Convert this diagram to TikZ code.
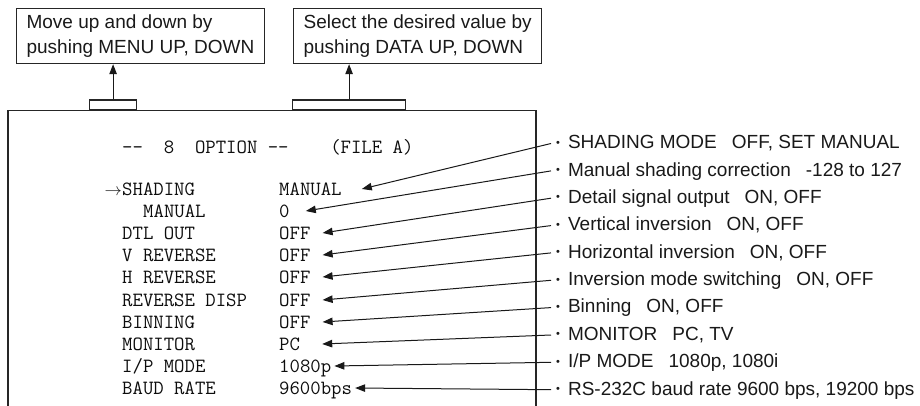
\documentclass[tikz,border=0pt]{standalone}
\usepackage{fontspec}
\setmainfont{Liberation Sans}
\usetikzlibrary{arrows.meta}
\newcommand\bul{{\fontsize{11}{11}\selectfont\raisebox{2.5pt}{•}}\hspace{8pt}}
\newcommand\gp{\hspace{15pt}}
\begin{document}
\begin{tikzpicture}[x=1pt,y=-1pt,
  ln/.style={draw=black!85, line width=1.4pt},
  topbox/.style={draw=black!85, line width=1.2pt, align=left, inner xsep=10pt,
    minimum height=55pt, anchor=north west, font=\fontsize{19}{25}\selectfont, text=black!90},
  tab/.style={draw=black!85, line width=1.2pt, minimum height=10pt, inner sep=0pt, anchor=south west},
  mono/.style={font=\ttfamily\fontsize{20.2}{20}\selectfont, inner sep=0pt, anchor=base west,
    text=black!95, text height=12pt, text depth=0pt},
  lab/.style={font=\fontsize{19}{19}\selectfont, inner sep=0pt, anchor=base west, text=black!90},
  tip/.style={-{Triangle[length=10pt,width=7.5pt]}, draw=black!90, line width=1pt},
]
\useasboundingbox (0,0) rectangle (920,406);

% top boxes
\node[topbox] (b1) at (16,8) {Move up and down by\\pushing MENU UP, DOWN};
\node[topbox] (b2) at (293,8) {Select the desired value by\\pushing DATA UP, DOWN};

% tabs
\node[tab, minimum width=47pt] (t1) at (89,110.7) {};
\node[tab, minimum width=113pt] (t2) at (292,110.7) {};
\draw[tip] (t1.north) -- (t1.north |- b1.south);
\draw[tip] (t2.north) -- (t2.north |- b2.south);

% screen frame
\draw[ln] (8,408) -- (8,110.7) -- (536,110.7) -- (536,408);

% screen text
\node[mono] (title) at (122,154) {--~~8~~OPTION~--~~~~(FILE~A)};
\node[mono] (l0) at (122,195) {SHADING};
\node[font=\fontsize{18}{18}\selectfont, inner sep=0pt, anchor=base east, text=black!90] (cur) at (122,195) {$\rightarrow$};
\node[mono] (l1) at (143,217) {MANUAL};
\node[mono] (l2) at (122,239) {DTL OUT};
\node[mono] (l3) at (122,261) {V REVERSE};
\node[mono] (l4) at (122,283) {H REVERSE};
\node[mono] (l5) at (122,306) {REVERSE DISP};
\node[mono] (l6) at (122,328) {BINNING};
\node[mono] (l7) at (122,350) {MONITOR};
\node[mono] (l8) at (122,372) {I/P MODE};
\node[mono] (l9) at (122,394) {BAUD RATE};

\node[mono] (v0) at (279,195) {MANUAL};
\node[mono] (v1) at (279,217) {0};
\node[mono] (v2) at (279,239) {OFF};
\node[mono] (v3) at (279,261) {OFF};
\node[mono] (v4) at (279,283) {OFF};
\node[mono] (v5) at (279,306) {OFF};
\node[mono] (v6) at (279,328) {OFF};
\node[mono] (v7) at (279,350) {PC};
\node[mono] (v8) at (279,372) {1080p};
\node[mono] (v9) at (279,394) {9600bps};

% right labels
\node[lab] (r0) at (556,148.8) {\bul SHADING MODE\gp OFF, SET MANUAL};
\node[lab] (r1) at (556,176.2) {\bul Manual shading correction\gp -128 to 127};
\node[lab] (r2) at (556,203.5) {\bul Detail signal output\gp ON, OFF};
\node[lab] (r3) at (556,230.9) {\bul Vertical inversion\gp ON, OFF};
\node[lab] (r4) at (556,258.2) {\bul Horizontal inversion\gp ON, OFF};
\node[lab] (r5) at (556,285.6) {\bul Inversion mode switching\gp ON, OFF};
\node[lab] (r6) at (556,312.9) {\bul Binning\gp ON, OFF};
\node[lab] (r7) at (556,340.3) {\bul MONITOR\gp PC, TV};
\node[lab] (r8) at (556,367.6) {\bul I/P MODE\gp 1080p, 1080i};
\node[lab] (r9) at (556,395.0) {\bul RS-232C baud rate 9600 bps, 19200 bps};

% connector start points
\coordinate (s0) at (551,143.5);
\coordinate (s1) at (551,170.9);
\coordinate (s2) at (551,198.2);
\coordinate (s3) at (551,225.6);
\coordinate (s4) at (551,252.9);
\coordinate (s5) at (551,280.3);
\coordinate (s6) at (551,307.6);
\coordinate (s7) at (551,335.0);
\coordinate (s8) at (551,362.3);
\coordinate (s9) at (551,389.7);

\draw[tip] (s0) -- ([xshift=20pt]v0.east);
\draw[tip] (s1) -- ([xshift=16pt]v1.east);
\draw[tip] (s2) -- ([xshift=12pt]v2.east);
\draw[tip] (s3) -- ([xshift=12pt]v3.east);
\draw[tip] (s4) -- ([xshift=12pt]v4.east);
\draw[tip] (s5) -- ([xshift=12pt]v5.east);
\draw[tip] (s6) -- ([xshift=12pt]v6.east);
\draw[tip] (s7) -- ([xshift=22pt]v7.east);
\draw[tip] (s8) -- ([xshift=3pt]v8.east);
\draw[tip] (s9) -- ([xshift=3pt]v9.east);
\end{tikzpicture}
\end{document}
